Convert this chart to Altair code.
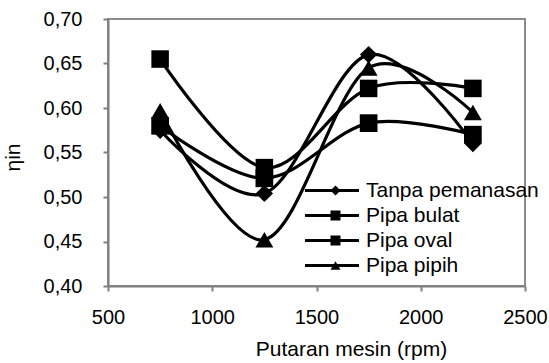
import altair as alt
import pandas as pd

# ---- data ----
rpm = [750, 1250, 1750, 2250]
series_names = ["Tanpa pemanasan", "Pipa bulat", "Pipa oval", "Pipa pipih"]
tanpa_pemanasan = [0.575, 0.504, 0.660, 0.560]
pipa_bulat = [0.655, 0.533, 0.622, 0.622]
pipa_oval = [0.580, 0.521, 0.583, 0.570]
pipa_pipih = [0.597, 0.452, 0.645, 0.595]
marker_shapes = ["diamond", "square", "square", "triangle-up"]
marker_sizes = [300, 320, 320, 230]
x_ticks = [500, 1000, 1500, 2000, 2500]
y_ticks = [0.40, 0.45, 0.50, 0.55, 0.60, 0.65, 0.70]

rows = []
for name, vals in zip(series_names, [tanpa_pemanasan, pipa_bulat, pipa_oval, pipa_pipih]):
    for x, v in zip(rpm, vals):
        rows.append({"rpm": x, "eta": v, "series": name, "series_m": name})
df = pd.DataFrame(rows)

FONT = "Liberation Sans"

x_enc = alt.X(
    "rpm:Q",
    scale=alt.Scale(domain=[500, 2500], nice=False, zero=False),
    axis=alt.Axis(
        values=x_ticks, format="d", title="Putaran mesin (rpm)",
        grid=False, tickSize=5, labelPadding=16, labelFontSize=20, labelFlush=False,
        titleFontSize=21, titleFontWeight="normal", titleX=243, titleY=52,
        titleBaseline="top", titleAlign="center",
    ),
)
y_enc = alt.Y(
    "eta:Q",
    scale=alt.Scale(domain=[0.40, 0.70], nice=False, zero=False),
    axis=alt.Axis(
        values=y_ticks, labelExpr="replace(format(datum.value, '.2f'), '.', ',')",
        title="ηin", grid=False, tickSize=5, labelPadding=21, labelFontSize=20,
        labelFlush=False,
        titleFontSize=21, titleFontWeight="normal", titleAngle=270,
        titleX=-95, titleY=138, titleBaseline="middle", titleAlign="center",
    ),
)

lines = alt.Chart(df).mark_line(
    interpolate="cardinal", tension=0, strokeWidth=3.2
).encode(
    x=x_enc,
    y=y_enc,
    color=alt.Color(
        "series:N",
        sort=series_names,
        scale=alt.Scale(range=["black", "black", "black", "black"]),
        legend=alt.Legend(
            title=None, orient="none", legendX=195, legendY=159,
            symbolType="stroke", symbolSize=2916, symbolStrokeWidth=3.2,
            labelFontSize=21, labelOffset=5, labelLimit=400, clipHeight=25,
            rowPadding=0, padding=0, labelColor="black",
        ),
    ),
    detail="series:N",
)

points = alt.Chart(df).mark_point(filled=True, color="black", opacity=1, strokeWidth=0).encode(
    x="rpm:Q",
    y="eta:Q",
    shape=alt.Shape(
        "series_m:N",
        sort=series_names,
        scale=alt.Scale(range=marker_shapes),
        legend=alt.Legend(
            title=None, orient="none", legendX=217, legendY=159,
            symbolSize=100, symbolFillColor="black", symbolStrokeColor="black",
            symbolStrokeWidth=0, symbolOpacity=1,
            labelExpr="''", labelFontSize=21, labelOffset=5, clipHeight=25,
            rowPadding=0, padding=0,
        ),
    ),
    size=alt.Size(
        "series_m:N",
        sort=series_names,
        scale=alt.Scale(range=marker_sizes),
        legend=None,
    ),
)

chart = alt.layer(lines, points).properties(
    width=417,
    height=267,
    autosize=alt.AutoSizeParams(type="none"),
    padding={"left": 108, "top": 19, "right": 24, "bottom": 77},
    background="white",
).configure(
    font=FONT,
).configure_view(
    stroke="#8c8c8c", strokeWidth=2,
).configure_axis(
    domainColor="#7f7f7f", domainWidth=2, tickColor="#7f7f7f", tickWidth=2,
    labelColor="black", titleColor="black", labelFont=FONT, titleFont=FONT,
)

chart.save("out.html", embed_options={"renderer": "svg", "actions": False})
